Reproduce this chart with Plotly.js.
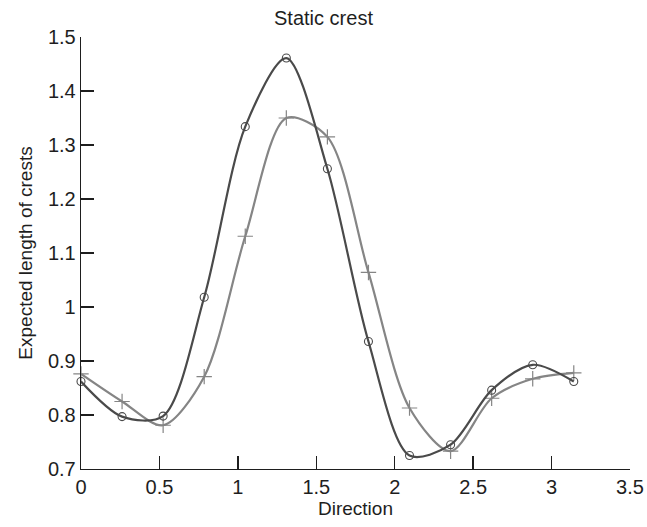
<!DOCTYPE html>
<html>
<head>
<meta charset="utf-8">
<script src="https://cdn.plot.ly/plotly-3.0.1.min.js"></script>
<style>html,body{margin:0;padding:0;background:#fff;}#chart{width:647px;height:527px;}</style>
</head>
<body>
<div id="chart"></div>
<script>
// Direction values (radians)
const direction = [0, 0.2618, 0.5236, 0.7854, 1.0472, 1.3090, 1.5708, 1.8326, 2.0944, 2.3562, 2.6180, 2.8798, 3.1416];
// Series with circle markers (dark)
const crestCircle = [0.862, 0.797, 0.798, 1.018, 1.334, 1.461, 1.256, 0.936, 0.725, 0.745, 0.846, 0.893, 0.862];
// Series with plus markers (light)
const crestPlus = [0.876, 0.825, 0.781, 0.871, 1.131, 1.350, 1.315, 1.064, 0.813, 0.733, 0.831, 0.867, 0.878];

const xTicks = [0, 0.5, 1, 1.5, 2, 2.5, 3, 3.5];
const yTicks = [0.7, 0.8, 0.9, 1, 1.1, 1.2, 1.3, 1.4, 1.5];

const font = 'Liberation Sans, Arial, Helvetica, sans-serif';
const ink = '#1e1e1e';

const traces = [
  {
    x: direction, y: crestPlus, type: 'scatter', mode: 'lines+markers',
    line: {color: '#858585', width: 2.2, shape: 'spline', smoothing: 0.85},
    marker: {symbol: 'cross-thin-open', size: 11, color: '#858585', line: {color: '#858585', width: 1.2}},
    showlegend: false, cliponaxis: false
  },
  {
    x: direction, y: crestCircle, type: 'scatter', mode: 'lines+markers',
    line: {color: '#4a4a4a', width: 2.2, shape: 'spline', smoothing: 0.85},
    marker: {symbol: 'circle-open', size: 8, color: '#4a4a4a', line: {color: '#4a4a4a', width: 1.1}},
    showlegend: false, cliponaxis: false
  }
];

const layout = {
  width: 647, height: 527,
  margin: {l: 81, r: 17, t: 37, b: 58},
  paper_bgcolor: '#ffffff', plot_bgcolor: '#ffffff',
  font: {family: font, size: 20, color: ink},
  title: {text: 'Static crest', x: 0.5, xanchor: 'center', y: 0.966, yanchor: 'middle', font: {family: font, size: 20, color: ink}},
  xaxis: {
    range: [0, 3.5], tickvals: xTicks, ticktext: xTicks.map(String),
    showgrid: false, zeroline: false, showline: true, linecolor: ink, linewidth: 1.3,
    ticks: 'inside', ticklen: 13, tickwidth: 1.3, tickcolor: ink,
    tickfont: {family: font, size: 20, color: ink},
    title: {text: 'Direction', font: {family: font, size: 19, color: ink}, standoff: 4}
  },
  yaxis: {
    range: [0.7, 1.5], tickvals: yTicks, ticktext: yTicks.map(String),
    showgrid: false, zeroline: false, showline: true, linecolor: ink, linewidth: 1.3,
    ticks: 'inside', ticklen: 13, tickwidth: 1.3, tickcolor: ink,
    tickfont: {family: font, size: 20, color: ink},
    title: {text: 'Expected length of crests', font: {family: font, size: 19, color: ink}, standoff: 10}
  }
};

Plotly.newPlot('chart', traces, layout, {displayModeBar: false, staticPlot: true});
</script>
</body>
</html>
